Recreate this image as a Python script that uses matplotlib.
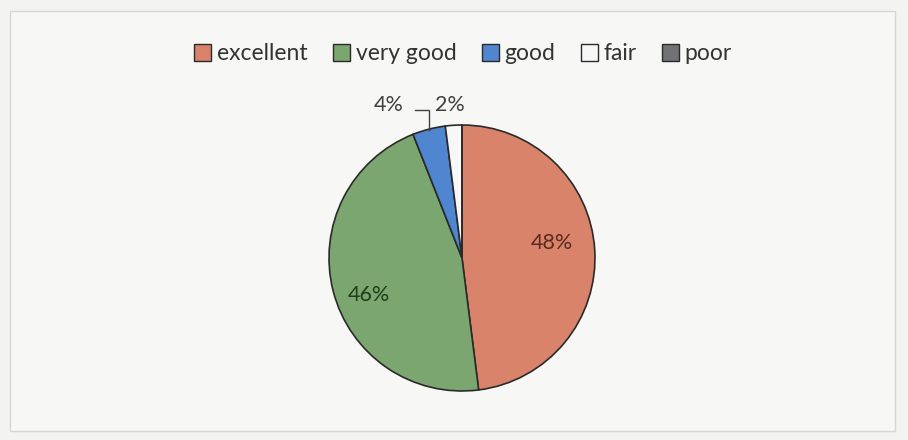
import numpy as np
import matplotlib.pyplot as plt
from matplotlib.patches import Rectangle, Patch

# Rating shares
categories = ['excellent', 'very good', 'good', 'fair', 'poor']
values = [48, 46, 4, 2, 0]
colors = ['#d9836b', '#7ba66f', '#4f86cf', '#f7f7f7', '#707274']
label_colors = ['#5a2a1e', '#1f3d1a', '#404040', '#404040', '#404040']

plt.rcParams['font.family'] = ['Lato', 'DejaVu Sans']

fig = plt.figure(figsize=(9.08, 4.4), dpi=100)
fig.patch.set_facecolor('#f3f3f1')

# chart frame, behind everything
fig.patches.append(Rectangle((0.011, 0.02), 0.975, 0.955, transform=fig.transFigure,
                             facecolor='#f7f7f6', edgecolor='#d6d6d4', linewidth=1.0,
                             zorder=-5))

ax = fig.add_axes([0.3623, 0.1114, 0.2930, 0.6045])
ax.set_facecolor('none')

wedges, texts = ax.pie(values, colors=colors, startangle=90, counterclock=False,
                       radius=1.0,
                       wedgeprops=dict(edgecolor='#2a2a2a', linewidth=1.2))
ax.set_xlim(-1, 1)
ax.set_ylim(-1, 1)
ax.set_aspect('equal')
ax.axis('off')

lab_fs = 15.5
total = sum(values)
for i, (w, v, tc) in enumerate(zip(wedges, values, label_colors)):
    if v == 0:
        continue
    mid = np.deg2rad((w.theta1 + w.theta2) / 2)
    pct = f'{v / total * 100:.0f}%'
    if v >= 10:
        # excel nudges inside labels a bit
        r, dy = (0.68, 0.07) if i == 0 else (0.72, -0.1)
        ax.text(r * np.cos(mid), r * np.sin(mid) + dy, pct, ha='center', va='center',
                fontsize=lab_fs, color=tc)
    elif v == 2:
        ax.text(np.cos(mid) - 0.03, 1.15, pct, ha='center', va='center',
                fontsize=lab_fs, color=tc)
    else:
        tx, ty = -0.55, 1.15
        ax.text(tx, ty, pct, ha='center', va='center', fontsize=lab_fs, color=tc)
        # leader line: right of label, across, then down to the slice
        xm, ym = np.cos(mid) * 0.99, np.sin(mid) * 0.99
        ax.plot([tx + 0.2, xm, xm], [ty - 0.04, ty - 0.04, ym], color='#404040',
                lw=1.0, clip_on=False, solid_joinstyle='miter')

handles = [Patch(facecolor=c, edgecolor='#2a2a2a', linewidth=1.0) for c in colors]
fig.legend(handles, categories, loc='center', bbox_to_anchor=(0.51, 0.878), ncol=5,
           frameon=False, fontsize=16.5, handlelength=0.75, handleheight=0.75,
           handletextpad=0.25, columnspacing=1.1, labelcolor='#333333')

fig.savefig('out.png', dpi=100, facecolor=fig.get_facecolor())
